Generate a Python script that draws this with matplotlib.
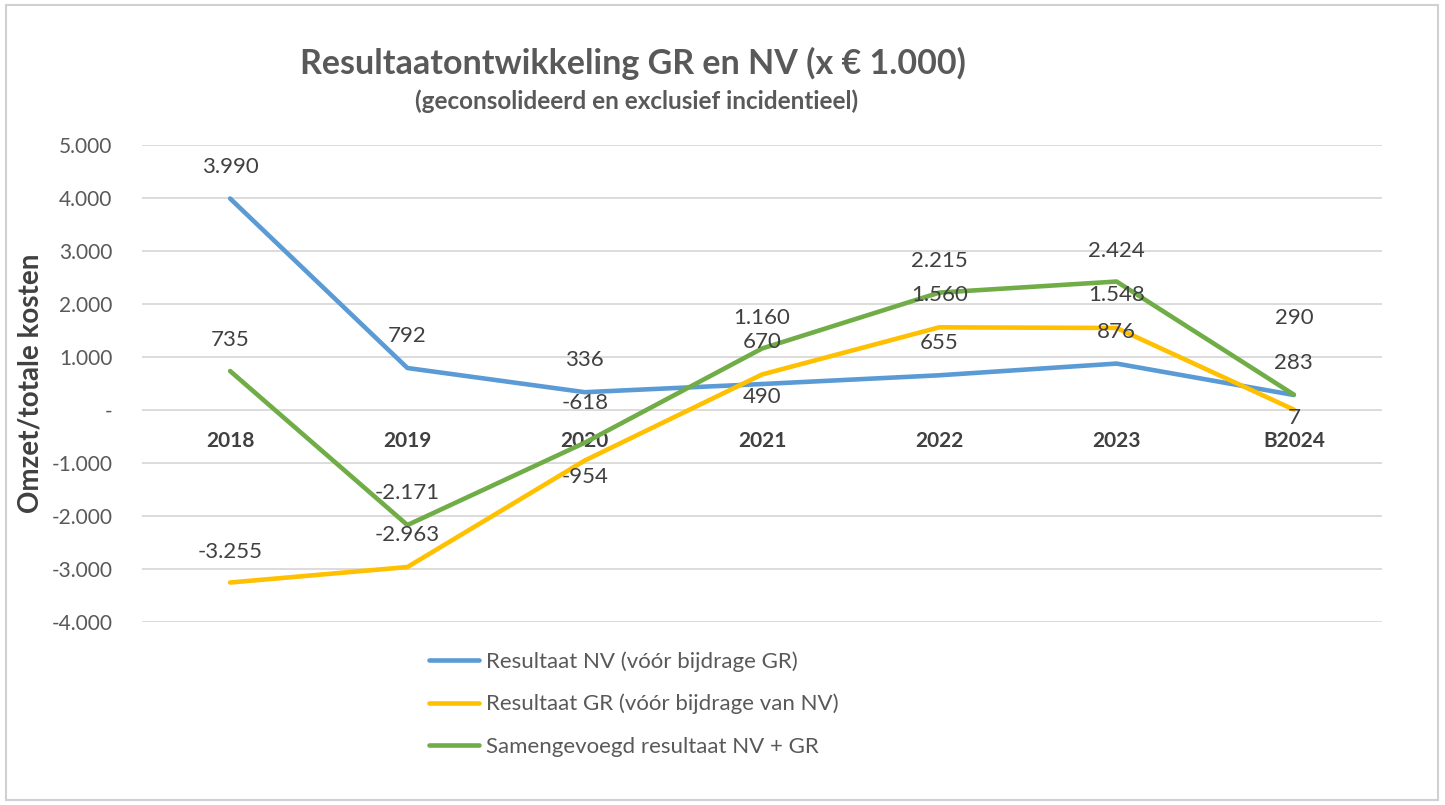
import matplotlib
matplotlib.use('Agg')
import matplotlib.pyplot as plt
from matplotlib.patches import Rectangle
from matplotlib.ticker import FuncFormatter, MultipleLocator

plt.rcParams['font.family'] = ['Lato', 'DejaVu Sans']

years = ['2018', '2019', '2020', '2021', '2022', '2023', 'B2024']
nv = [3990, 792, 336, 490, 655, 876, 283]          # Resultaat NV
gr = [-3255, -2963, -954, 670, 1560, 1548, 7]      # Resultaat GR
total = [735, -2171, -618, 1160, 2215, 2424, 290]  # Samengevoegd

names = ['Resultaat NV (vóór bijdrage GR)',
         'Resultaat GR (vóór bijdrage van NV)',
         'Samengevoegd resultaat NV + GR']
colors = ['#5B9BD5', '#FFC000', '#70AD47']

# label offsets in pixels (the excel labels were moved around a bit)
nv_dy = [32, 32, 32, -13, 32, 32, 32]
gr_dy = [31, 32, -16, 32, 32, 33, -8]
tot_dy = [31, 32, 40, 31, 32, 31, 77]

W, H = 1445, 805
fig = plt.figure(figsize=(W / 100, H / 100), dpi=100)
ax = fig.add_axes([141.5 / W, 1 - 622 / H, 1241 / W, 477 / H])

x = list(range(len(years)))
series = [nv, gr, total]
offsets = [nv_dy, gr_dy, tot_dy]
for vals, col, name in zip(series, colors, names):
    ax.plot(x, vals, color=col, lw=3.3, label=name, solid_capstyle='round', zorder=3)

def dutch(v):
    return f'{v:,.0f}'.replace(',', '.')

for vals, dys in zip(series, offsets):
    for xi, v, dy in zip(x, vals, dys):
        ax.annotate(dutch(v), (xi, v), xytext=(0, dy), textcoords='offset pixels',
                    ha='center', va='center', fontsize=16, color='#404040', zorder=4)

ax.set_xlim(-0.5, len(years) - 0.5)
ax.set_ylim(-4000, 5000)
ax.yaxis.set_major_locator(MultipleLocator(1000))
ax.yaxis.set_major_formatter(FuncFormatter(lambda v, p: '-' if v == 0 else dutch(v)))
ax.grid(axis='y', color='#d9d9d9', lw=1.3)
ax.set_axisbelow(True)
for s in ['top', 'right', 'left']:
    ax.spines[s].set_visible(False)
ax.spines['bottom'].set_position(('data', 0))
ax.spines['bottom'].set_visible(False)

ax.set_xticks(x)
ax.set_xticklabels(years, fontweight='bold', color='#404040', fontsize=15)
ax.tick_params(axis='x', length=0, pad=15)
ax.tick_params(axis='y', length=0, pad=21, labelcolor='#595959', labelsize=15)

ax.set_ylabel('Omzet/totale kosten', fontweight='bold', fontsize=20, color='#404040')
ax.yaxis.set_label_coords(-98 / 1241, 0.5)

fig.text(633 / W, 1 - 63 / H, 'Resultaatontwikkeling GR en NV (x € 1.000)',
         ha='center', va='center', fontsize=24.5, fontweight='bold', color='#595959')
fig.text(637 / W, 1 - 101 / H, '(geconsolideerd en exclusief incidentieel)',
         ha='center', va='center', fontsize=17.5, fontweight='bold', color='#595959')

leg = ax.legend(loc='upper left', bbox_to_anchor=(429 / W, 1 - 651 / H),
                bbox_transform=fig.transFigure, frameon=False, fontsize=16,
                handlelength=2.25, handletextpad=0.3, labelspacing=1.0,
                borderpad=0, borderaxespad=0)
for t in leg.get_texts():
    t.set_color('#595959')

fig.patches.append(Rectangle((6 / W, 5 / H), 1432 / W, 795 / H, transform=fig.transFigure,
                             fill=False, edgecolor='#d0d0d0', lw=1.5))

fig.savefig('out.png', dpi=100)
